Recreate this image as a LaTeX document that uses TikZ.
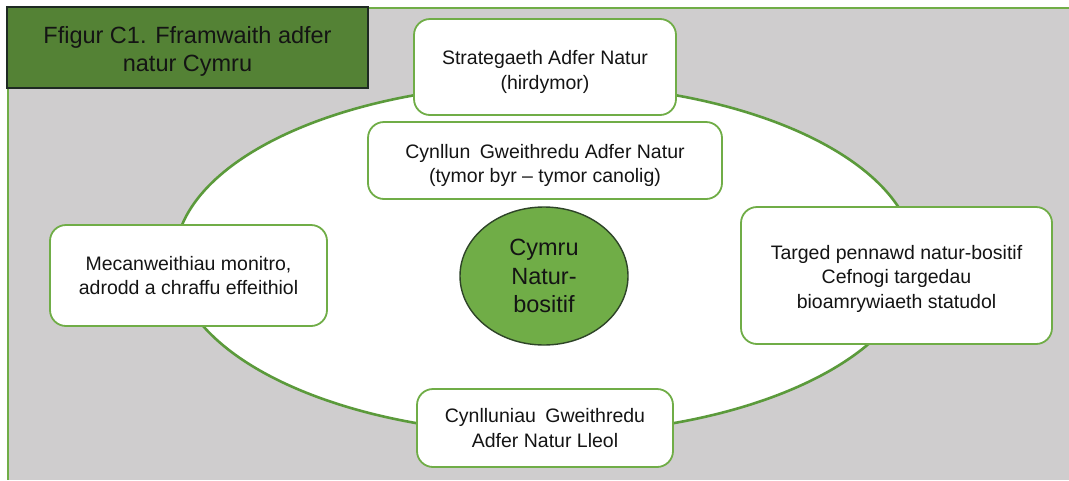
\documentclass[tikz,border=0pt]{standalone}
\usepackage{fontspec}
\setmainfont{Liberation Sans}
\usetikzlibrary{shapes.geometric}
\definecolor{bggray}{HTML}{CFCDCE}
\definecolor{lightgreen}{HTML}{70AD47}
\definecolor{darkgreen}{HTML}{548235}
\definecolor{ringgreen}{HTML}{5B9A3B}
\definecolor{titleborder}{HTML}{1E2A22}
\definecolor{txt}{HTML}{141414}
\tikzset{
  greenbox/.style={draw=lightgreen, line width=1.8pt, fill=white, rounded corners=16pt,
    inner sep=0pt},
  boxtext/.style={align=center, inner sep=0pt, text=txt, font=\fontsize{19.5}{24.5}\selectfont},
  titlebox/.style={draw=titleborder, line width=1.6pt, fill=darkgreen, inner sep=0pt},
  titletext/.style={align=center, inner sep=0pt, text=txt, font=\fontsize{23.5}{28}\selectfont},
  ring/.style={ellipse, draw=ringgreen, line width=2.6pt, fill=white, inner sep=0pt},
  hub/.style={ellipse, draw=titleborder!70!darkgreen, line width=1.4pt, fill=lightgreen,
    inner sep=0pt, align=center, text=txt, font=\fontsize{23.5}{28.5}\selectfont},
  frameline/.style={draw=lightgreen, line width=2.2pt}
}
\begin{document}
\begin{tikzpicture}[x=1pt,y=-1pt]
\useasboundingbox (0,0) rectangle (1069,480);
% background panel
\fill[bggray] (8,8) rectangle (1069,480);
\coordinate (tl) at (8,8);
\coordinate (tr) at (1069,8);
\coordinate (bl) at (8,480);
\draw[frameline] (tr) -- (tl) -- (bl);
% title
\node[titlebox, minimum width=361pt, minimum height=81pt] (title) at (187.5,47.5) {};
\node[titletext] (titletxt) at ([yshift=-4pt]title.center)
  {Ffigur C1. Fframwaith adfer\\natur Cymru};
% big ring
\node[ring, minimum width=740pt, minimum height=350pt] (bigring) at (545,259) {};
% boxes
\node[greenbox, minimum width=262pt, minimum height=96pt] (strat) at (545,67) {};
\node[boxtext] (strattxt) at ([yshift=-5pt]strat.center)
  {Strategaeth Adfer Natur\\(hirdymor)};
\node[greenbox, minimum width=354pt, minimum height=77pt] (plan) at (545,160.5) {};
\node[boxtext] (plantxt) at ([yshift=-5pt]plan.center)
  {Cynllun\hspace{4pt} Gweithredu Adfer Natur\\(tymor byr -- tymor canolig)};
\node[greenbox, minimum width=277pt, minimum height=101pt] (monitor) at (188.5,275.5) {};
\node[boxtext] (monitortxt) at (monitor.center)
  {Mecanweithiau monitro,\\adrodd a chraffu effeithiol};
\node[greenbox, minimum width=311pt, minimum height=137pt] (target) at (896.5,275.5) {};
\node[boxtext] (targettxt) at ([yshift=-3pt]target.center)
  {Targed pennawd natur-bositif\\Cefnogi targedau\\bioamrywiaeth statudol};
\node[greenbox, minimum width=256pt, minimum height=78pt] (local) at (545,428) {};
\node[boxtext] (localtxt) at (local.center)
  {Cynlluniau\hspace{4pt} Gweithredu\\Adfer Natur Lleol};
% hub
\node[hub, minimum width=168pt, minimum height=138pt] (hub) at (544,276)
  {Cymru\\Natur-\\bositif};
\end{tikzpicture}
\end{document}
